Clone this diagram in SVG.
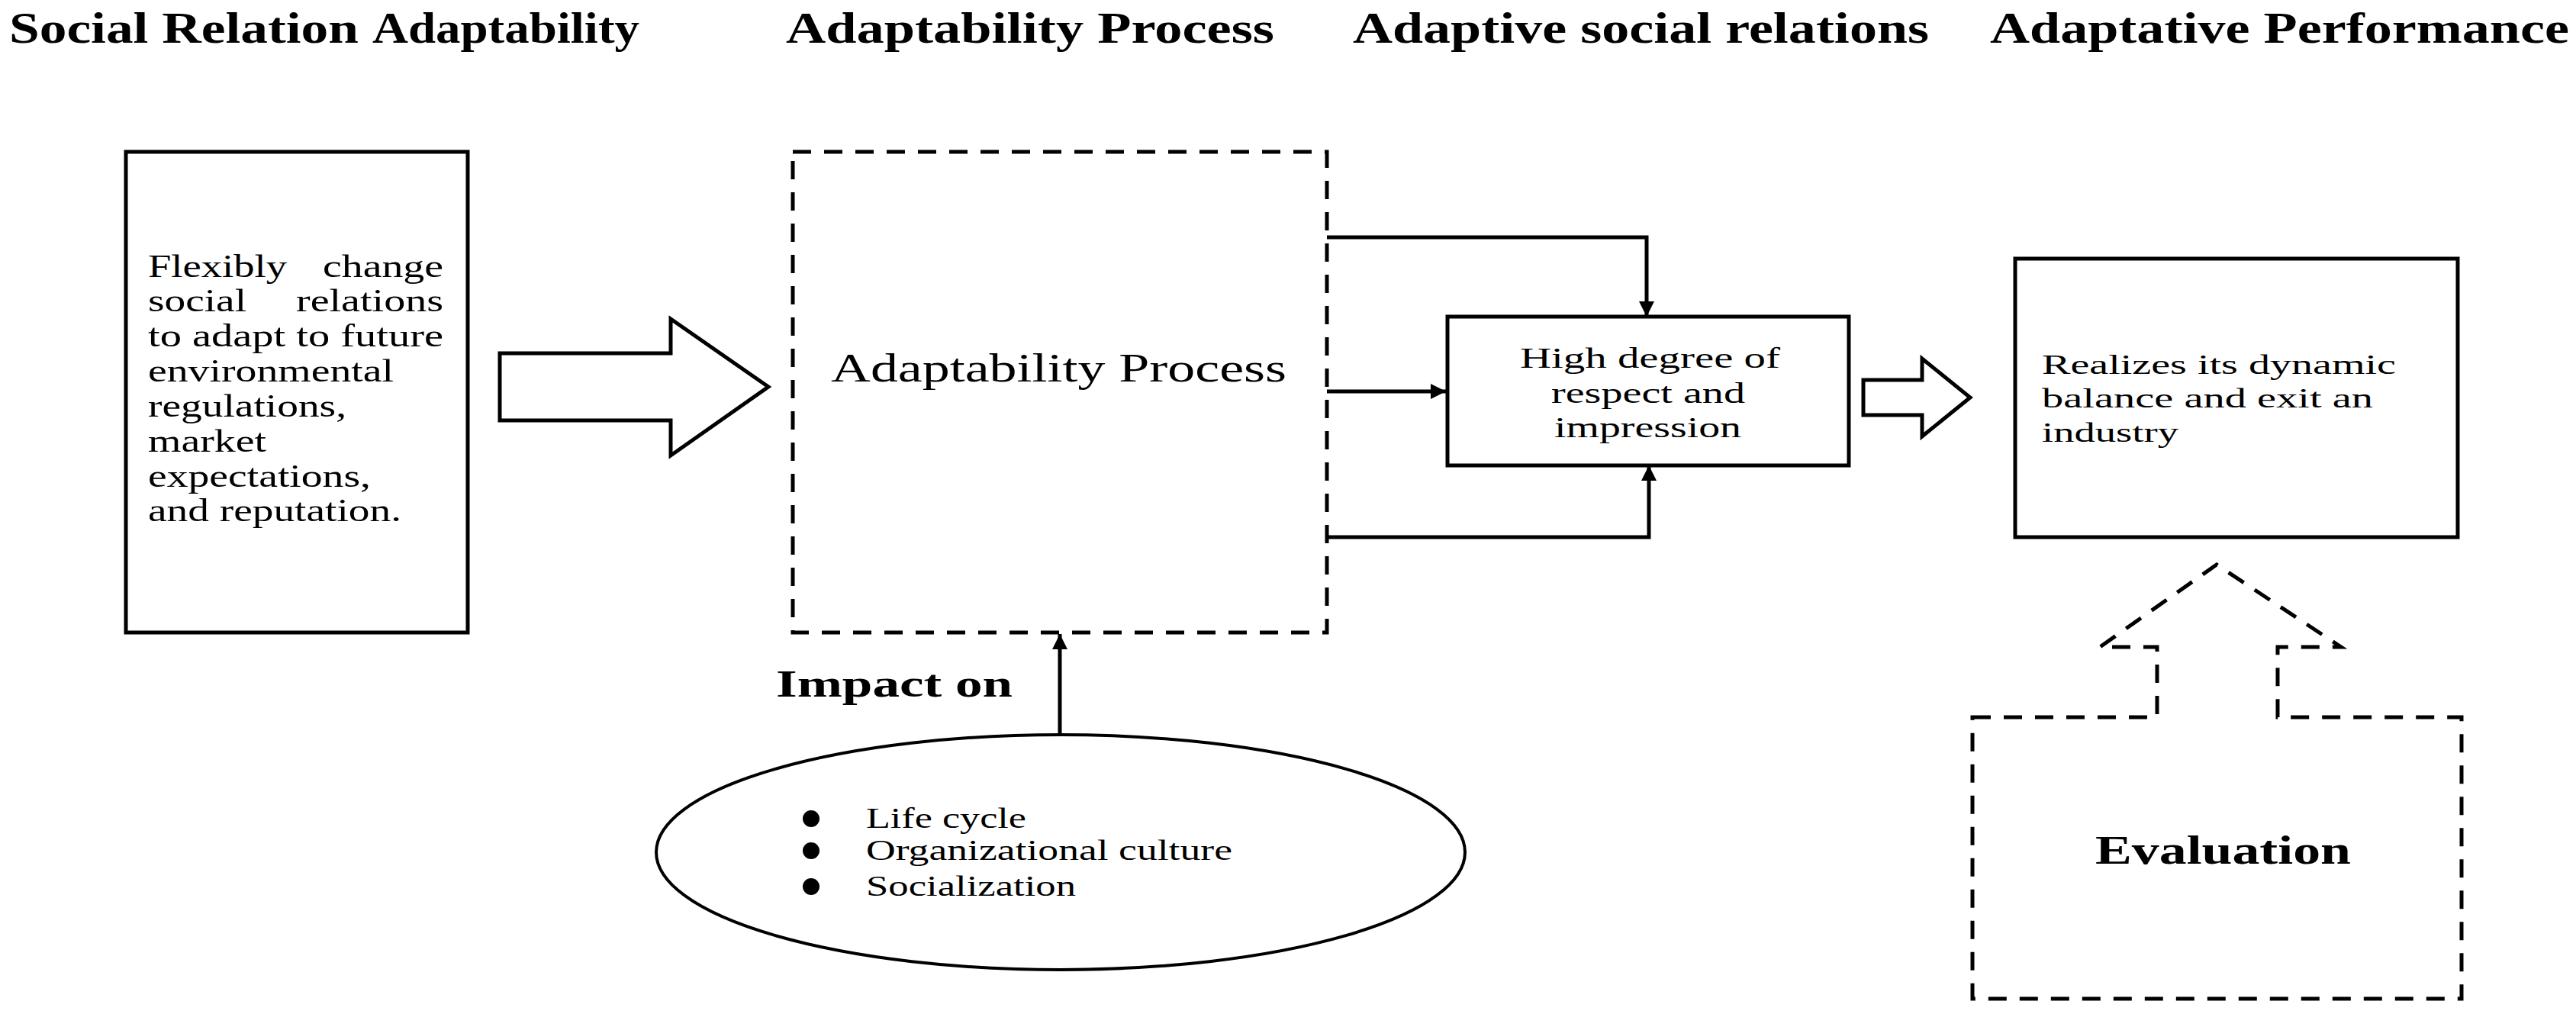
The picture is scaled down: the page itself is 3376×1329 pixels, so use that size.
<svg xmlns="http://www.w3.org/2000/svg" width="3376" height="1329" viewBox="0 0 3376 1329">
<defs>
<style>
.t{font-family:"Liberation Serif","Times New Roman",serif;fill:#000}
.b{font-weight:bold}
.box{fill:#fff;stroke:#000;stroke-width:5}
.dash{fill:none;stroke:#000;stroke-width:5;stroke-dasharray:24 17}
.conn{fill:none;stroke:#000;stroke-width:5}
</style>
<marker id="ah" viewBox="0 0 10 10" refX="10" refY="5" markerUnits="userSpaceOnUse" markerWidth="22" markerHeight="20" orient="auto">
<path d="M0,0 L10,5 L0,10 z" fill="#000"/>
</marker>
</defs>
<rect width="3376" height="1329" fill="#fff"/>

<g id="titles">
<text class="t b" x="12" y="56" font-size="56" textLength="458" lengthAdjust="spacingAndGlyphs">Social Relation</text>
<text class="t b" x="488" y="56" font-size="56" textLength="350" lengthAdjust="spacingAndGlyphs">Adaptability</text>
<text class="t b" x="1030" y="56" font-size="56" textLength="640" lengthAdjust="spacingAndGlyphs">Adaptability Process</text>
<text class="t b" x="1773" y="56" font-size="56" textLength="755" lengthAdjust="spacingAndGlyphs">Adaptive social relations</text>
<text class="t b" x="2608" y="56" font-size="56" textLength="759" lengthAdjust="spacingAndGlyphs">Adaptative Performance</text>
</g>

<g id="node-social-relation">
<rect class="box" x="165" y="199" width="448" height="630"/>
<g class="t" font-size="42">
<text x="194" y="363" textLength="182" lengthAdjust="spacingAndGlyphs">Flexibly</text>
<text x="423" y="363" textLength="158" lengthAdjust="spacingAndGlyphs">change</text>
<text x="194" y="408" textLength="129" lengthAdjust="spacingAndGlyphs">social</text>
<text x="388" y="408" textLength="193" lengthAdjust="spacingAndGlyphs">relations</text>
<text x="194" y="454" textLength="387" lengthAdjust="spacingAndGlyphs">to adapt to future</text>
<text x="194" y="500" textLength="322" lengthAdjust="spacingAndGlyphs">environmental</text>
<text x="194" y="546" textLength="260" lengthAdjust="spacingAndGlyphs">regulations,</text>
<text x="194" y="592" textLength="155" lengthAdjust="spacingAndGlyphs">market</text>
<text x="194" y="638" textLength="292" lengthAdjust="spacingAndGlyphs">expectations,</text>
<text x="194" y="683" textLength="332" lengthAdjust="spacingAndGlyphs">and reputation.</text>
</g>
</g>

<g id="node-big-arrow">
<polygon class="box" points="655,463 879,463 879,418 1007,507 879,597 879,551 655,551"/>
</g>

<g id="node-adaptability-process">
<rect class="dash" x="1039" y="199" width="700" height="630"/>
<text class="t" x="1089" y="500" font-size="52" textLength="597" lengthAdjust="spacingAndGlyphs">Adaptability Process</text>
</g>

<g id="node-respect">
<rect class="box" x="1897" y="415" width="526" height="195"/>
<g class="t" font-size="37">
<text x="1992" y="482" textLength="341" lengthAdjust="spacingAndGlyphs">High degree of</text>
<text x="2033" y="528" textLength="254" lengthAdjust="spacingAndGlyphs">respect and</text>
<text x="2037" y="573" textLength="245" lengthAdjust="spacingAndGlyphs">impression</text>
</g>
</g>

<g id="node-small-arrow">
<polygon class="box" points="2442,498 2519,498 2519,470 2582,521 2519,572 2519,544 2442,544"/>
</g>

<g id="node-performance">
<rect class="box" x="2641" y="339" width="580" height="365"/>
<g class="t" font-size="36">
<text x="2676" y="490" textLength="464" lengthAdjust="spacingAndGlyphs">Realizes its dynamic</text>
<text x="2676" y="534" textLength="434" lengthAdjust="spacingAndGlyphs">balance and exit an</text>
<text x="2676" y="579" textLength="179" lengthAdjust="spacingAndGlyphs">industry</text>
</g>
</g>

<g id="node-evaluation">
<path class="dash" d="M2585,940 H2827 V848 H2752 L2905,740 L3068,848 H2985 V940 H3226 V1309 H2585 Z"/>
<text class="t b" x="2746" y="1132" font-size="52" textLength="335" lengthAdjust="spacingAndGlyphs">Evaluation</text>
</g>

<g id="node-impact">
<text class="t b" x="1017" y="913" font-size="50" textLength="310" lengthAdjust="spacingAndGlyphs">Impact on</text>
<ellipse cx="1390" cy="1117" rx="530" ry="154" fill="#fff" stroke="#000" stroke-width="4"/>
<g fill="#000">
<circle cx="1063" cy="1073" r="11"/>
<circle cx="1063" cy="1115" r="11"/>
<circle cx="1063" cy="1162" r="11"/>
</g>
<g class="t" font-size="37">
<text x="1135" y="1085" textLength="210" lengthAdjust="spacingAndGlyphs">Life cycle</text>
<text x="1135" y="1127" textLength="480" lengthAdjust="spacingAndGlyphs">Organizational culture</text>
<text x="1135" y="1174" textLength="275" lengthAdjust="spacingAndGlyphs">Socialization</text>
</g>
</g>

<g id="connectors">
<path class="conn" d="M1739,311 H2158 V415" marker-end="url(#ah)"/>
<path class="conn" d="M1739,513 H1895" marker-end="url(#ah)"/>
<path class="conn" d="M1739,704 H2161 V610" marker-end="url(#ah)"/>
<path class="conn" d="M1389,963 V831" marker-end="url(#ah)"/>
</g>
</svg>
